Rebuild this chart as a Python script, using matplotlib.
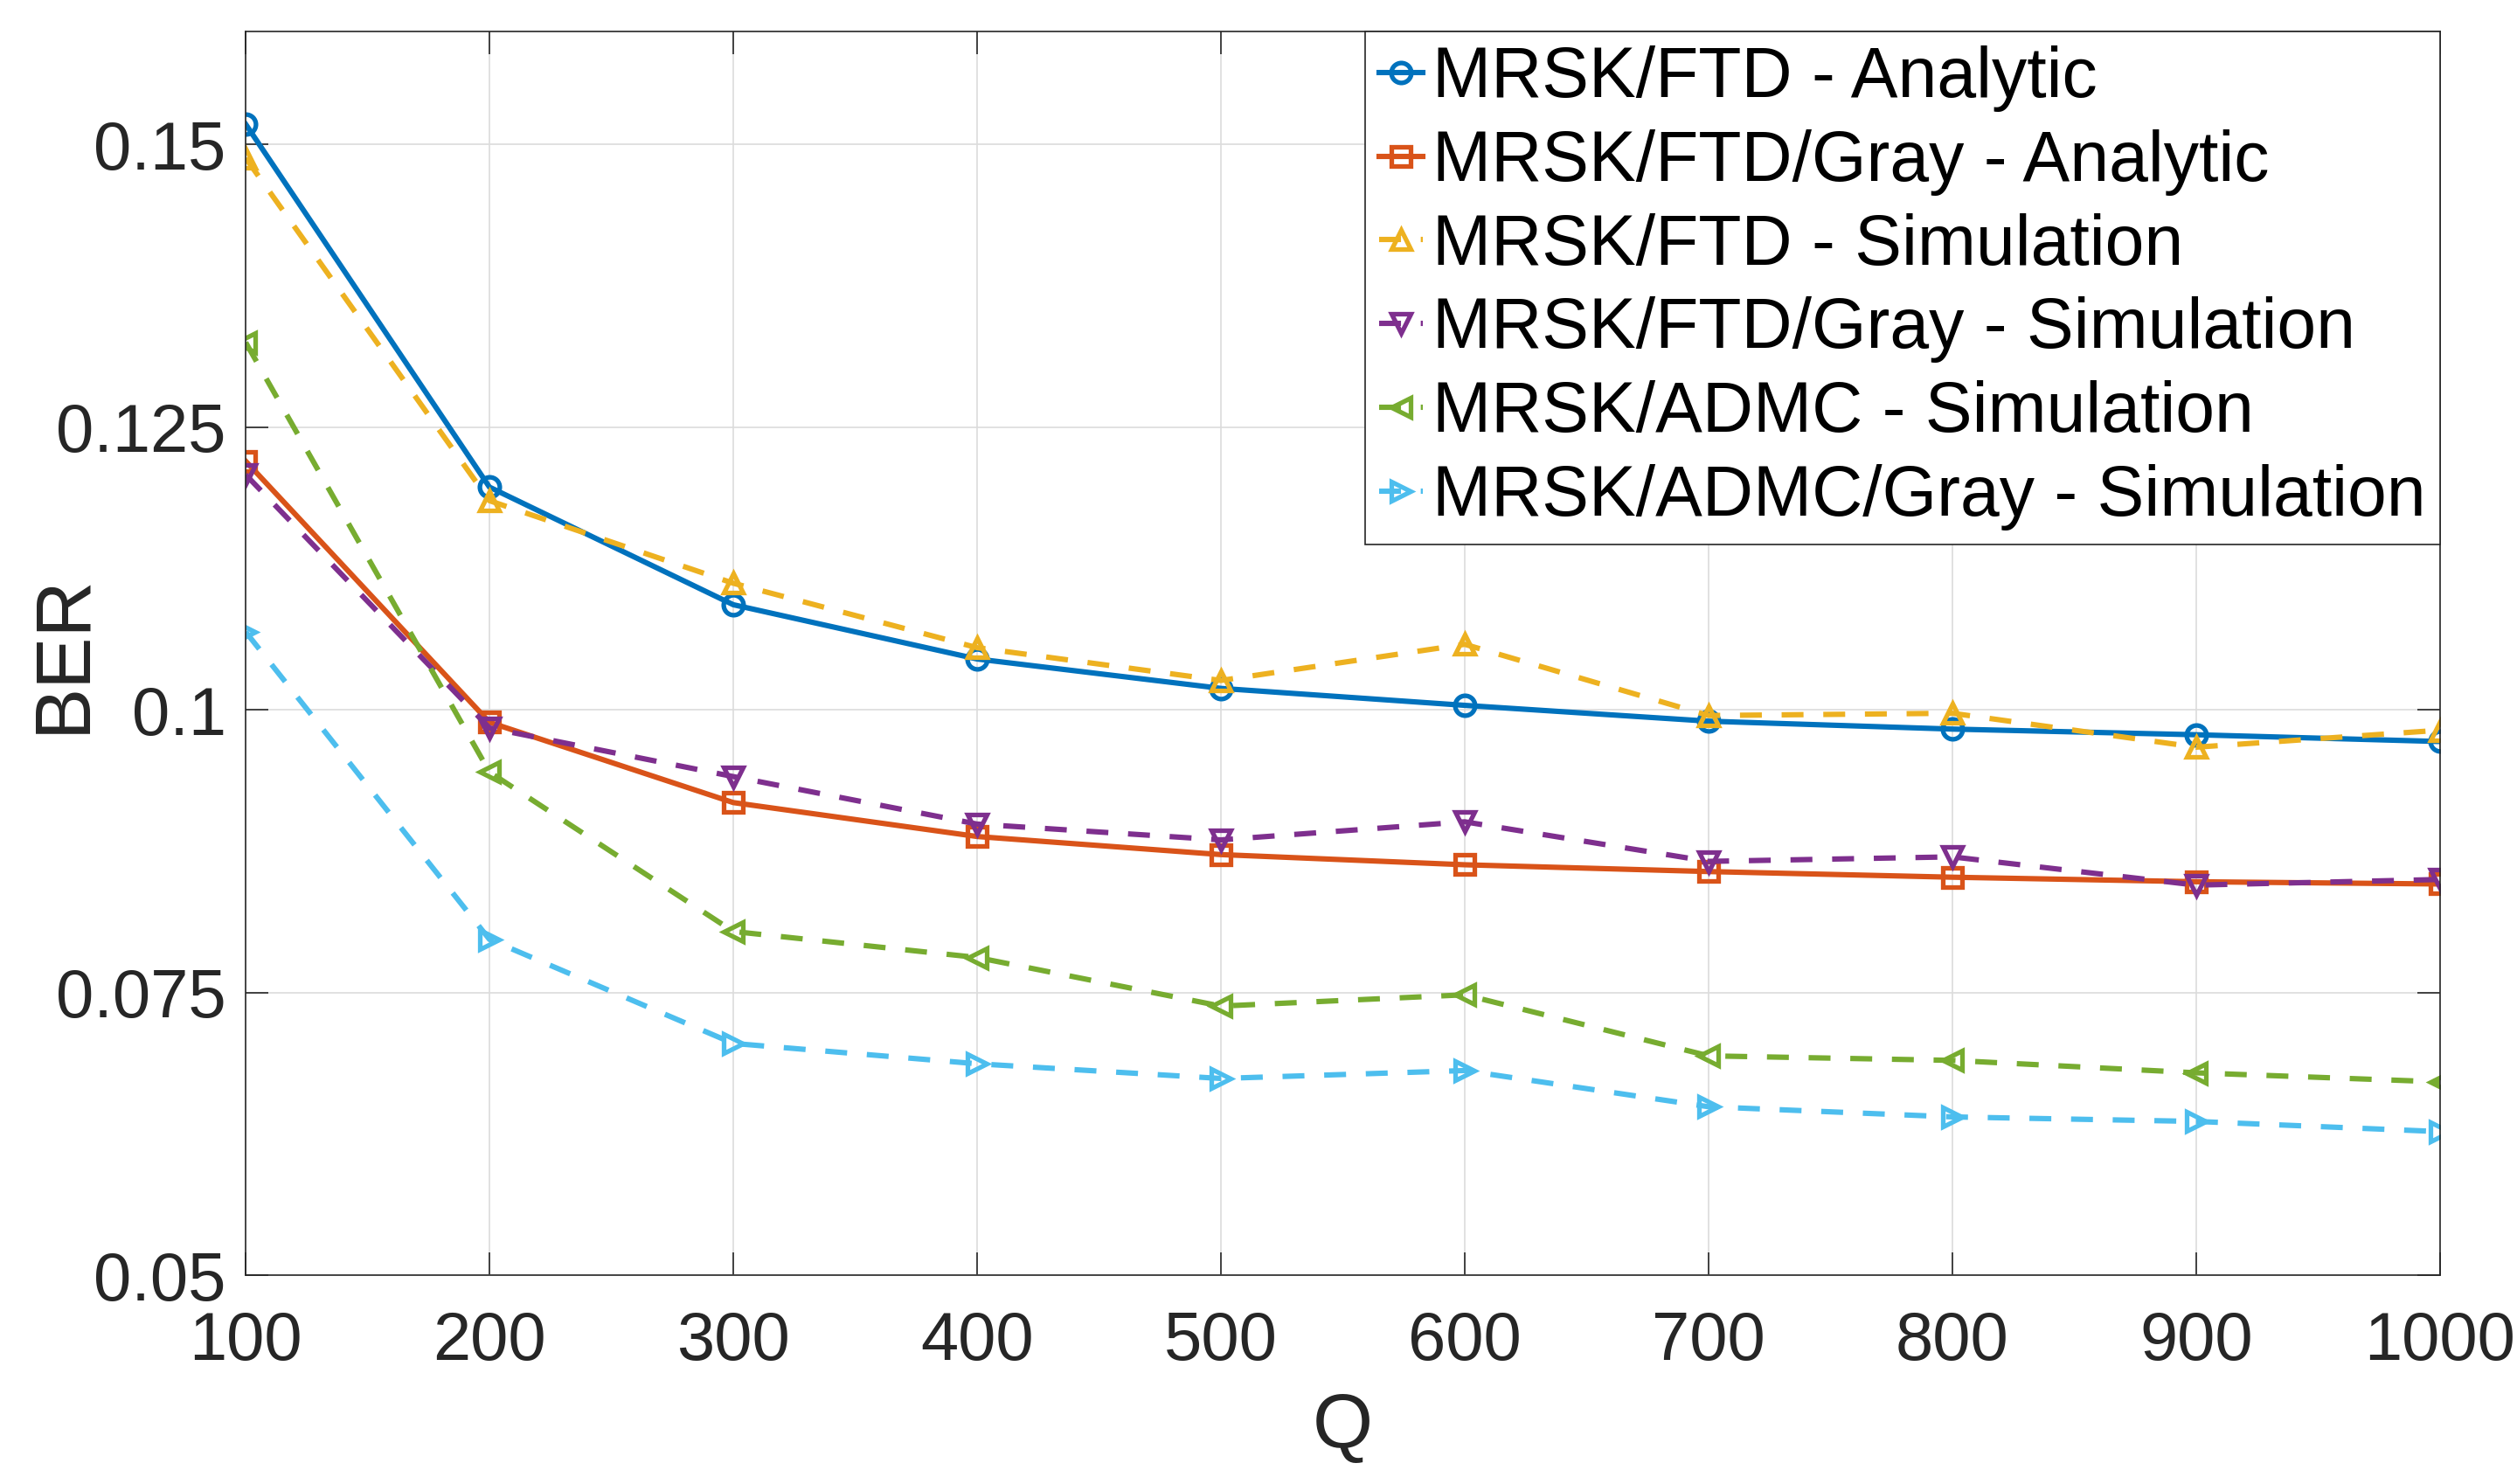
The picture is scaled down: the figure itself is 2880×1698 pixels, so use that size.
import numpy as np
import matplotlib.pyplot as plt

plt.rcParams['font.family'] = ['Liberation Sans', 'DejaVu Sans']

# ---------------- données ----------------
Q = [100, 200, 300, 400, 500, 600, 700, 800, 900, 1000]

ftd_analytic = [0.1518, 0.1197, 0.1093, 0.1045, 0.1019, 0.1004, 0.0990, 0.0983, 0.0978, 0.0972]
ftd_gray_analytic = [0.1220, 0.0989, 0.0918, 0.0888, 0.0872, 0.0863, 0.0857, 0.0852, 0.0848, 0.0846]
ftd_sim = [0.1488, 0.1185, 0.1112, 0.1055, 0.1026, 0.1058, 0.0995, 0.0997, 0.0967, 0.0982]
ftd_gray_sim = [0.1208, 0.0984, 0.0941, 0.0899, 0.0885, 0.0901, 0.0866, 0.0870, 0.0845, 0.0850]
admc_sim = [0.1325, 0.0945, 0.0804, 0.0781, 0.0738, 0.0748, 0.0694, 0.0690, 0.0679, 0.0671]
admc_gray_sim = [0.1069, 0.0797, 0.0705, 0.0687, 0.0674, 0.0681, 0.0649, 0.0640, 0.0636, 0.0627]

labels = ['MRSK/FTD - Analytic', 'MRSK/FTD/Gray - Analytic', 'MRSK/FTD - Simulation',
          'MRSK/FTD/Gray - Simulation', 'MRSK/ADMC - Simulation', 'MRSK/ADMC/Gray - Simulation']

y_ticks = [0.05, 0.075, 0.1, 0.125, 0.15]
y_tick_labels = ['0.05', '0.075', '0.1', '0.125', '0.15']

# couleurs par défaut de MATLAB
colors = ['#0072BD', '#D95319', '#EDB120', '#7E2F8E', '#77AC30', '#4DBEEE']
markers = ['o', 's', '^', 'v', '<', '>']
dash = (0, (4.1, 3.7))
styles = ['-', '-', dash, dash, dash, dash]

series = [ftd_analytic, ftd_gray_analytic, ftd_sim, ftd_gray_sim, admc_sim, admc_gray_sim]

# ---------------- figure ----------------
fig = plt.figure(figsize=(14.4, 8.49), dpi=200)
ax = fig.add_axes([0.0976, 0.1407, 0.9694 - 0.0976, 0.9788 - 0.1407])

for y, c, m, ls, lab in zip(series, colors, markers, styles, labels):
    ax.plot(Q, y, color=c, marker=m, linestyle=ls, linewidth=2.2,
            markersize=8.2, markerfacecolor='none', markeredgewidth=1.9, label=lab)

ax.set_xlim(100, 1000)
ax.set_ylim(0.05, 0.16)
ax.set_xticks(Q)
ax.set_yticks(y_ticks)
ax.set_yticklabels(y_tick_labels)

ax.grid(True, color='#dcdcdc', linewidth=0.6)
ax.set_axisbelow(True)

ax.tick_params(axis='both', which='both', direction='in', length=9.3, width=0.6,
               colors='#262626', labelsize=28, top=True, right=True)
ax.tick_params(axis='x', pad=14.5)
ax.tick_params(axis='y', pad=8)
for s in ax.spines.values():
    s.set_color('#262626')
    s.set_linewidth(0.6)

ax.set_xlabel('Q', fontsize=32, color='#262626', labelpad=7)
ax.set_ylabel('BER', fontsize=32, color='#262626')
ax.yaxis.set_label_coords(-0.066, 0.5)

leg = ax.legend(loc='upper right', bbox_to_anchor=(1, 1), borderaxespad=0,
                fontsize=29, fancybox=False, framealpha=1, edgecolor='#262626',
                handlelength=0.62, handletextpad=0.14, borderpad=0.2,
                labelspacing=0.245, numpoints=1)
leg.get_frame().set_linewidth(0.6)

fig.savefig('out.png', dpi=200)
